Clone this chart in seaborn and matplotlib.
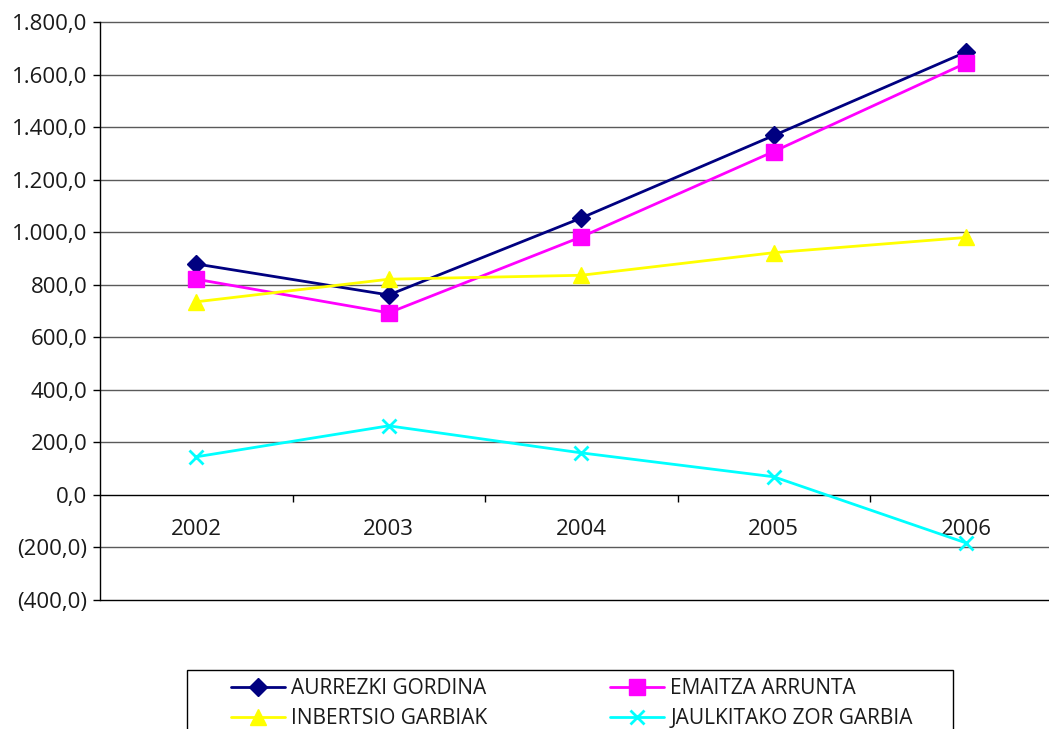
import matplotlib
matplotlib.use("Agg")
import matplotlib.pyplot as plt
from matplotlib.ticker import FuncFormatter, FixedLocator
from matplotlib.patches import Rectangle
import seaborn as sns
import pandas as pd

# Categories and series values
years = ["2002", "2003", "2004", "2005", "2006"]
aurrezki_gordina = [879, 761, 1054, 1368, 1686]
emaitza_arrunta = [821, 693, 982, 1307, 1644]
inbertsio_garbiak = [735, 821, 836, 922, 980]
jaulkitako_zor_garbia = [145, 263, 160, 69, -183]

series_names = ["AURREZKI GORDINA", "EMAITZA ARRUNTA", "INBERTSIO GARBIAK", "JAULKITAKO ZOR GARBIA"]
series_values = [aurrezki_gordina, emaitza_arrunta, inbertsio_garbiak, jaulkitako_zor_garbia]

y_ticks = [-400, -200, 0, 200, 400, 600, 800, 1000, 1200, 1400, 1600, 1800]

rows = []
for name, vals in zip(series_names, series_values):
    for i, v in enumerate(vals):
        rows.append({"serie": name, "pos": i, "balioa": v})
df = pd.DataFrame(rows)

sns.set_theme(style="white")
plt.rcParams["font.family"] = ["Open Sans", "DejaVu Sans"]

styles = {
    "AURREZKI GORDINA": dict(color="#000080", marker="D", markersize=9, mew=1),
    "EMAITZA ARRUNTA": dict(color="#FF00FF", marker="s", markersize=11, mew=1),
    "INBERTSIO GARBIAK": dict(color="#FFFF00", marker="^", markersize=12, mew=1),
    "JAULKITAKO ZOR GARBIA": dict(color="#00FFFF", marker="x", markersize=10, mew=2),
}

fig = plt.figure(figsize=(10.49, 7.29), dpi=100)
ax = fig.add_axes([100 / 1049, 1 - 600 / 729, 962.5 / 1049, 578 / 729])

for name in series_names:
    st = styles[name]
    sns.lineplot(data=df[df["serie"] == name], x="pos", y="balioa", ax=ax,
                 color=st["color"], linewidth=2, marker=st["marker"],
                 markersize=st["markersize"], markeredgecolor=st["color"],
                 markerfacecolor=st["color"], markeredgewidth=st["mew"],
                 label=name, legend=False, zorder=3)

ax.set_xlim(-0.5, 4.5)
ax.set_ylim(-400, 1800)
ax.set_xlabel("")
ax.set_ylabel("")

# Horizontal gridlines
for yv in y_ticks:
    if yv == 0:
        continue
    ax.axhline(yv, color="#000000" if yv == -400 else "#5a5a5a", linewidth=1,
               zorder=1, clip_on=False)

for s in ["top", "right"]:
    ax.spines[s].set_visible(False)
ax.spines["left"].set_color("black")
ax.spines["left"].set_linewidth(1)
ax.spines["bottom"].set_position(("data", 0))
ax.spines["bottom"].set_color("black")
ax.spines["bottom"].set_linewidth(1)

ax.set_yticks(y_ticks)
def fmt(v, _):
    s = f"{abs(v):,.1f}".replace(",", "X").replace(".", ",").replace("X", ".")
    return f"({s})" if v < 0 else s
ax.yaxis.set_major_formatter(FuncFormatter(fmt))
ax.tick_params(axis="y", direction="out", length=5, width=1, color="black",
               pad=4, labelsize=16, labelcolor="#1a1a1a", left=True)

ax.set_xticks(range(len(years)))
ax.set_xticklabels(years)
ax.xaxis.set_minor_locator(FixedLocator([0.5, 1.5, 2.5, 3.5]))
ax.tick_params(axis="x", which="major", length=0, pad=17, labelsize=16, labelcolor="#1a1a1a")
ax.tick_params(axis="x", which="minor", direction="out", length=5, width=1, color="black", bottom=True)

# Legend frame
fig.patches.append(Rectangle((187 / 1049, -0.05), 766 / 1049, 1 - 670 / 729 + 0.05,
                             transform=fig.transFigure, facecolor="white",
                             edgecolor="black", linewidth=1, zorder=0))

handles, labels = ax.get_legend_handles_labels()
order = [0, 2, 1, 3]
leg = fig.legend([handles[i] for i in order], [labels[i] for i in order],
                 loc="upper left", bbox_to_anchor=(231 / 1049, 1 - 678 / 729, (913 - 231) / 1049, 0),
                 mode="expand", ncol=2, frameon=False, fontsize=15,
                 handlelength=2.6, handletextpad=0.3, labelspacing=0.45,
                 borderpad=0, borderaxespad=0)
for t in leg.get_texts():
    t.set_color("#1a1a1a")

fig.savefig("out.png", dpi=100)
